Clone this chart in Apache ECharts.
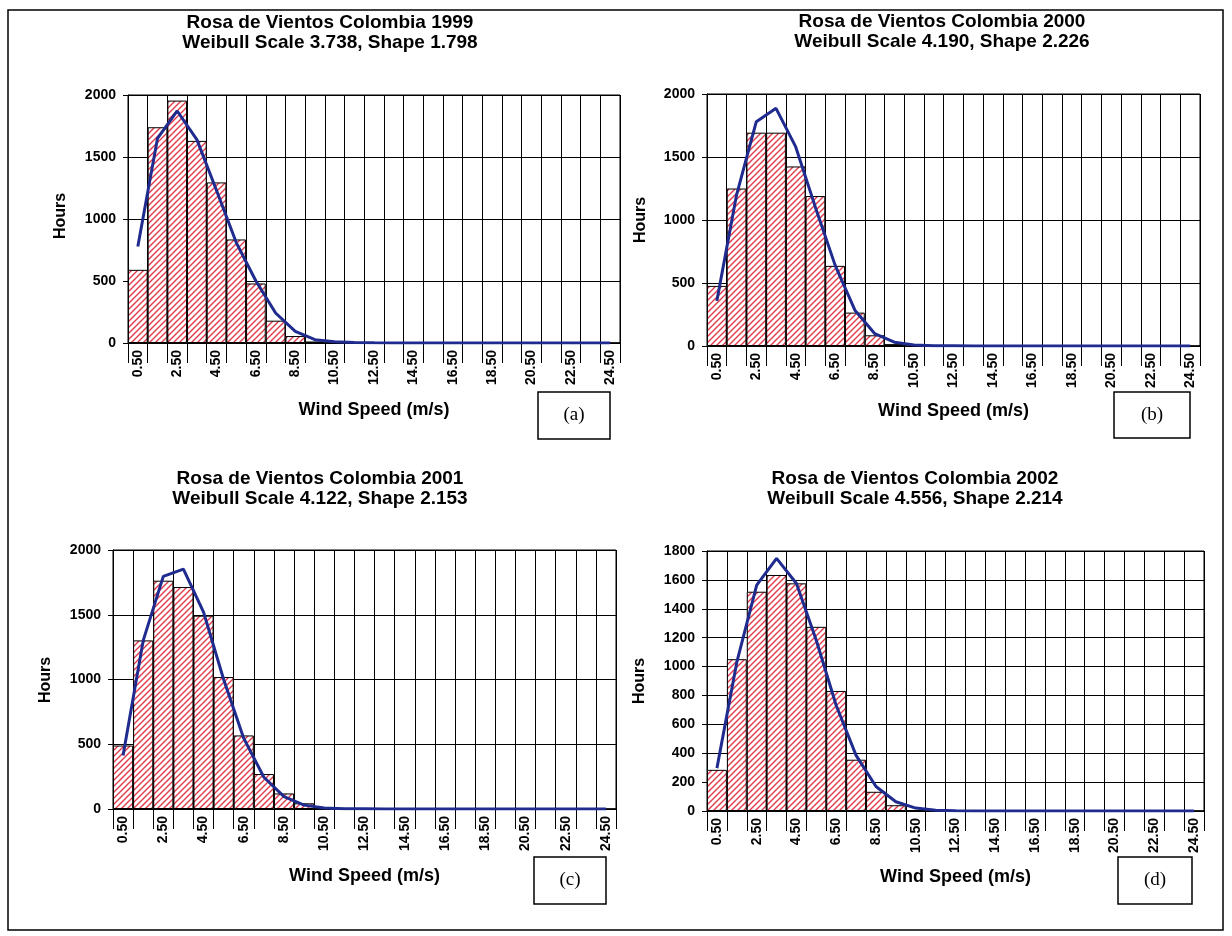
<!DOCTYPE html>
<html>
<head>
<meta charset="utf-8">
<script src="https://cdn.jsdelivr.net/npm/echarts@6/dist/echarts.min.js"></script>
<style>
html,body{margin:0;padding:0;background:#fff;}
#chart{width:1232px;height:936px;}
</style>
</head>
<body>
<div id="chart"></div>
<script>
const categories = ['0.50','1.50','2.50','3.50','4.50','5.50','6.50','7.50','8.50','9.50','10.50','11.50','12.50','13.50','14.50','15.50','16.50','17.50','18.50','19.50','20.50','21.50','22.50','23.50','24.50'];

const hours1999   = [590, 1740, 1955, 1630, 1295, 835, 480, 180, 56, 12, 3, 0, 0, 0, 0, 0, 0, 0, 0, 0, 0, 0, 0, 0, 0];
const weibull1999 = [778, 1651, 1871, 1640, 1230, 810, 500, 242, 94, 27, 10, 4, 2, 1, 0, 0, 0, 0, 0, 0, 0, 0, 0, 0, 0];

const hours2000   = [477, 1250, 1693, 1693, 1425, 1190, 636, 265, 85, 15, 2, 0, 0, 0, 0, 0, 0, 0, 0, 0, 0, 0, 0, 0, 0];
const weibull2000 = [358, 1200, 1780, 1886, 1580, 1100, 640, 284, 99, 30, 8, 2, 1, 0, 0, 0, 0, 0, 0, 0, 0, 0, 0, 0, 0];

const hours2001   = [490, 1302, 1763, 1714, 1493, 1019, 568, 270, 120, 44, 5, 0, 0, 0, 0, 0, 0, 0, 0, 0, 0, 0, 0, 0, 0];
const weibull2001 = [414, 1300, 1796, 1853, 1520, 1000, 545, 245, 95, 30, 8, 2, 1, 0, 0, 0, 0, 0, 0, 0, 0, 0, 0, 0, 0];

const hours2002   = [285, 1051, 1518, 1634, 1576, 1275, 831, 355, 133, 40, 5, 0, 0, 0, 0, 0, 0, 0, 0, 0, 0, 0, 0, 0, 0];
const weibull2002 = [297, 1030, 1564, 1749, 1575, 1180, 730, 385, 170, 64, 20, 5, 1, 0, 0, 0, 0, 0, 0, 0, 0, 0, 0, 0, 0];

const titles = [
  ['Rosa de Vientos Colombia 1999', 'Weibull Scale 3.738, Shape 1.798'],
  ['Rosa de Vientos Colombia 2000', 'Weibull Scale 4.190, Shape 2.226'],
  ['Rosa de Vientos Colombia 2001', 'Weibull Scale 4.122, Shape 2.153'],
  ['Rosa de Vientos Colombia 2002', 'Weibull Scale 4.556, Shape 2.214']
];
const panelLabels = ['(a)', '(b)', '(c)', '(d)'];
const yMax = [2000, 2000, 2000, 1800];
const yStep = [500, 500, 500, 200];
const xAxisName = 'Wind Speed (m/s)';
const yAxisName = 'Hours';

const barData = [hours1999, hours2000, hours2001, hours2002];
const lineData = [weibull1999, weibull2000, weibull2001, weibull2002];

// layout
const grids = [
  {left: 128, top: 95, width: 492, height: 248},
  {left: 707, top: 94, width: 493, height: 252},
  {left: 113, top: 550, width: 503, height: 259},
  {left: 707, top: 551, width: 497, height: 260}
];
const titleTop = [[330, 13], [942, 12], [320, 469], [915, 469]];
const hoursPos = [[61, 216], [641, 220], [46, 680], [640, 681]];
const windY = [410, 411, 876, 877];
const boxes = [
  [538, 392, 72, 47],
  [1114, 392, 76, 46],
  [534, 857, 72, 47],
  [1118, 857, 74, 47]
];

function makeHatch() {
  const s = 6;
  const c = document.createElement('canvas');
  c.width = s; c.height = s;
  const ctx = c.getContext('2d');
  ctx.fillStyle = '#ffffff';
  ctx.fillRect(0, 0, s, s);
  ctx.strokeStyle = '#e23a4a';
  ctx.lineWidth = 1.4;
  ctx.beginPath();
  ctx.moveTo(0, s); ctx.lineTo(s, 0);
  ctx.moveTo(-1, 1); ctx.lineTo(1, -1);
  ctx.moveTo(s - 1, s + 1); ctx.lineTo(s + 1, s - 1);
  ctx.stroke();
  return c;
}
const hatch = makeHatch();

const chart = echarts.init(document.getElementById('chart'), null, {renderer: 'canvas'});

const FONT = '"Liberation Sans", Arial, sans-serif';
const option = {
  animation: false,
  backgroundColor: '#ffffff',
  grid: grids.map(g => Object.assign({show: true, borderColor: '#000', borderWidth: 1, backgroundColor: '#fff', containLabel: false}, g)),
  xAxis: grids.map((g, i) => ({
    type: 'category',
    gridIndex: i,
    data: categories,
    boundaryGap: true,
    axisLine: {show: true, lineStyle: {color: '#000', width: 1}},
    axisTick: {show: true, interval: 0, length: 20, lineStyle: {color: '#000', width: 1}},
    axisLabel: {interval: 1, rotate: 90, margin: 7, color: '#000', fontWeight: 'bold', fontSize: 14, fontFamily: FONT},
    splitLine: {show: true, interval: 0, lineStyle: {color: '#000', width: 1}}
  })),
  yAxis: grids.map((g, i) => ({
    type: 'value',
    gridIndex: i,
    min: 0,
    max: yMax[i],
    interval: yStep[i],
    axisLine: {show: true, lineStyle: {color: '#000', width: 1}},
    axisTick: {show: true, length: 5, lineStyle: {color: '#000', width: 1}},
    axisLabel: {margin: 12, color: '#000', fontWeight: 'bold', fontSize: 14, fontFamily: FONT, formatter: v => String(v)},
    splitLine: {show: true, lineStyle: {color: '#000', width: 1}}
  })),
  series: [].concat(
    barData.map((d, i) => ({
      type: 'bar',
      xAxisIndex: i, yAxisIndex: i,
      data: d,
      barCategoryGap: '0%',
      itemStyle: {color: {image: hatch, repeat: 'repeat'}, borderColor: '#000', borderWidth: 1},
      silent: true,
      z: 2
    })),
    lineData.map((d, i) => ({
      type: 'line',
      xAxisIndex: i, yAxisIndex: i,
      data: d,
      showSymbol: false,
      symbol: 'none',
      lineStyle: {color: '#1f2b8e', width: 3},
      silent: true,
      z: 3
    }))
  ),
  graphic: [].concat(
    [{
      type: 'rect',
      shape: {x: 8, y: 10, width: 1215, height: 920},
      style: {fill: 'none', stroke: '#000', lineWidth: 1.5},
      z: 0, silent: true
    }],
    titles.map((t, i) => ({
      type: 'text',
      x: titleTop[i][0], y: titleTop[i][1],
      style: {text: t[0] + '\n' + t[1], font: 'bold 19px ' + FONT, fill: '#000', align: 'center', verticalAlign: 'top', lineHeight: 20},
      z: 10, silent: true
    })),
    grids.map((g, i) => ({
      type: 'text',
      x: hoursPos[i][0], y: hoursPos[i][1],
      rotation: Math.PI / 2,
      style: {text: yAxisName, font: 'bold 16px ' + FONT, fill: '#000', align: 'center', verticalAlign: 'middle'},
      z: 10, silent: true
    })),
    grids.map((g, i) => ({
      type: 'text',
      x: g.left + g.width / 2, y: windY[i],
      style: {text: xAxisName, font: 'bold 18px ' + FONT, fill: '#000', align: 'center', verticalAlign: 'middle'},
      z: 10, silent: true
    })),
    boxes.map((b, i) => ({
      type: 'rect',
      shape: {x: b[0], y: b[1], width: b[2], height: b[3]},
      style: {fill: '#fff', stroke: '#000', lineWidth: 1.5},
      z: 10, silent: true
    })),
    boxes.map((b, i) => ({
      type: 'text',
      x: b[0] + b[2] / 2, y: b[1] + b[3] / 2,
      style: {text: panelLabels[i], font: '19px "Liberation Serif", "Times New Roman", serif', fill: '#000', align: 'center', verticalAlign: 'middle'},
      z: 11, silent: true
    }))
  )
};
chart.setOption(option);
</script>
</body>
</html>
